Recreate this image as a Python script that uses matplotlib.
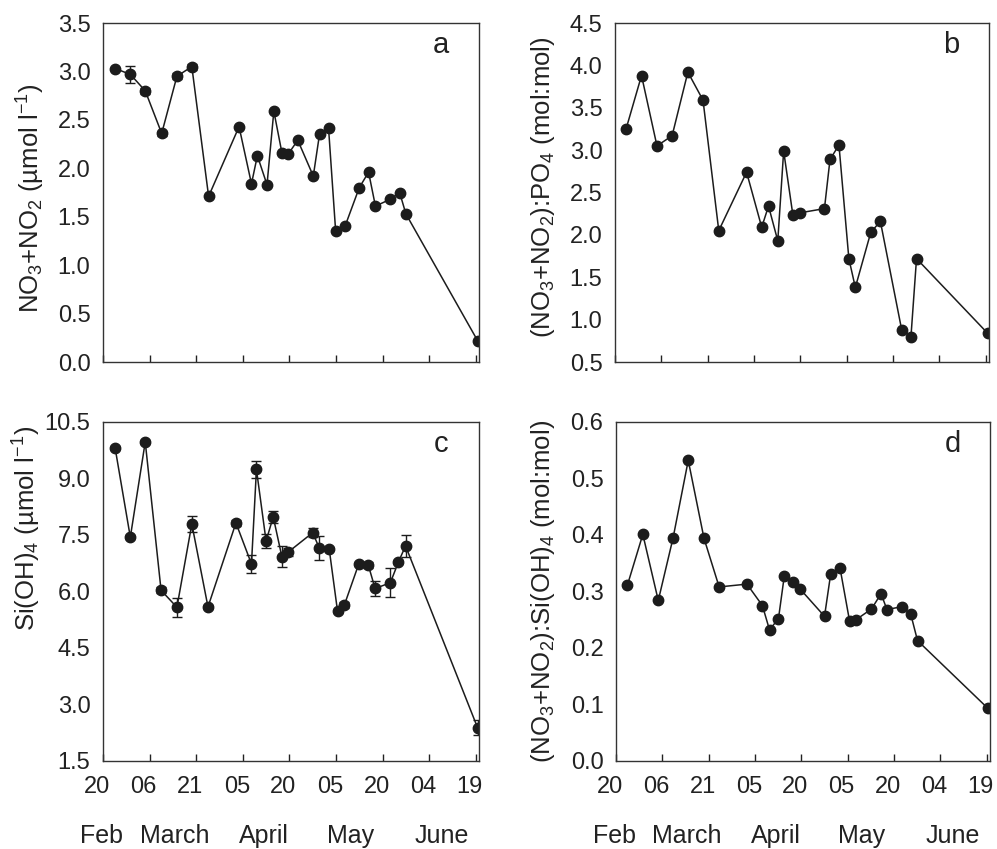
import matplotlib
matplotlib.use('Agg')
import matplotlib.pyplot as plt
import matplotlib.transforms as mtransforms
import numpy as np

plt.rcParams['font.family'] = ['Liberation Sans', 'DejaVu Sans']
plt.rcParams['mathtext.fontset'] = 'custom'
plt.rcParams['mathtext.rm'] = 'Liberation Sans'
plt.rcParams['mathtext.it'] = 'Liberation Sans:italic'
plt.rcParams['mathtext.default'] = 'regular'

# days since 20 Feb
day_a = [3.9, 8.8, 13.6, 18.9, 23.8, 28.6, 34.0, 43.8, 47.8, 49.7, 52.8, 55.0, 57.6, 59.7,
         62.7, 67.7, 69.7, 72.6, 74.9, 77.9, 82.5, 85.5, 87.7, 92.5, 95.5, 97.5, 120.6]
no3_a = [3.03, 2.97, 2.80, 2.36, 2.95, 3.05, 1.71, 2.43, 1.84, 2.13, 1.83, 2.59, 2.16, 2.15,
         2.29, 1.92, 2.35, 2.42, 1.35, 1.40, 1.80, 1.96, 1.61, 1.68, 1.75, 1.53, 0.22]
err_a = [0, 0.085, 0.03, 0.03, 0.03, 0.03, 0, 0, 0, 0, 0, 0, 0, 0,
         0, 0, 0, 0, 0, 0, 0, 0, 0, 0, 0, 0, 0]

day_b = [3.6, 8.6, 13.6, 18.5, 23.6, 28.5, 33.6, 42.6, 47.5, 49.7, 52.7, 54.6, 57.6,
         59.8, 67.8, 69.6, 72.5, 75.7, 77.8, 82.8, 85.9, 92.8, 95.8, 97.6, 120.6]
np_b = [3.25, 3.88, 3.05, 3.17, 3.92, 3.59, 2.05, 2.74, 2.09, 2.34, 1.93, 2.99, 2.23,
        2.26, 2.31, 2.89, 3.06, 1.72, 1.38, 2.03, 2.16, 0.88, 0.80, 1.72, 0.84]

day_c = [3.9, 8.8, 13.6, 18.7, 23.8, 28.6, 33.8, 42.8, 47.8, 49.4, 52.5, 54.8, 57.6,
         59.7, 67.5, 69.6, 72.8, 75.5, 77.7, 82.3, 85.4, 87.6, 92.5, 95.1, 97.4, 120.6]
si_c = [9.81, 7.44, 9.97, 6.03, 5.58, 7.79, 5.59, 7.82, 6.73, 9.24, 7.34, 7.98, 6.92,
        7.05, 7.56, 7.16, 7.14, 5.48, 5.64, 6.72, 6.70, 6.08, 6.23, 6.78, 7.21, 2.38]
err_c = [0.05, 0.05, 0.05, 0.08, 0.25, 0.22, 0.05, 0.08, 0.24, 0.23, 0.19, 0.16, 0.28,
         0.1, 0.12, 0.32, 0.05, 0.05, 0.08, 0.05, 0.08, 0.2, 0.38, 0.05, 0.29, 0.2]

day_d = [3.7, 8.7, 13.7, 18.5, 23.4, 28.5, 33.4, 42.4, 47.4, 49.7, 52.6, 54.5, 57.4,
         59.5, 67.5, 69.5, 72.5, 75.6, 77.7, 82.7, 85.8, 87.7, 92.5, 95.4, 97.6, 120.4]
nsi_d = [0.311, 0.401, 0.284, 0.395, 0.532, 0.394, 0.308, 0.313, 0.275, 0.232, 0.252,
         0.328, 0.316, 0.305, 0.256, 0.331, 0.342, 0.248, 0.250, 0.269, 0.296, 0.268,
         0.273, 0.260, 0.213, 0.093]

tick_days = [0, 15, 30, 45, 60, 75, 90, 105, 120]
tick_labels = ['20', '06', '21', '05', '20', '05', '20', '04', '19']
month_names = ['Feb', 'March', 'April', 'May', 'June']
month_pos = [-0.5, 23, 51.7, 79.6, 109]

ink = '#1c1c1c'

fig = plt.figure(figsize=(9.97, 8.49), dpi=100)
ax_a = fig.add_axes([0.1033, 0.5736, 0.377, 0.3993])
ax_b = fig.add_axes([0.6168, 0.5736, 0.375, 0.3993])
ax_c = fig.add_axes([0.1033, 0.1037, 0.377, 0.3993])
ax_d = fig.add_axes([0.6178, 0.1037, 0.375, 0.3993])

# tick labels sit a little left of their ticks in the original
shift = mtransforms.ScaledTranslation(-0.06, 0, fig.dpi_scale_trans)


def panel(ax, x, y, err, ylim, yticks, fmt, ylabel, lab_xy, letter, bottom):
    if err is not None:
        ax.errorbar(x, y, yerr=err, color=ink, lw=1.1, marker='o', ms=7.5,
                    capsize=3.5, elinewidth=1.0, capthick=1.0)
    else:
        ax.plot(x, y, color=ink, lw=1.1, marker='o', ms=7.5)
    ax.set_xlim(0, 121)
    ax.set_ylim(*ylim)
    ax.set_yticks(yticks)
    ax.set_yticklabels([fmt % v for v in yticks])
    ax.set_xticks(tick_days)
    ax.tick_params(axis='y', length=0, pad=9, labelsize=17, colors='#222222')
    ax.tick_params(axis='x', direction='in', length=5, width=1, pad=11,
                   labelsize=17, colors='#222222')
    if bottom:
        ax.set_xticklabels(tick_labels)
        for lab in ax.get_xticklabels():
            lab.set_transform(lab.get_transform() + shift)
        for m, p in zip(month_names, month_pos):
            ax.text(p, -0.22, m, transform=ax.get_xaxis_transform(),
                    ha='center', va='center', fontsize=18, color='#222222')
    else:
        ax.set_xticklabels([])
    for s in ax.spines.values():
        s.set_color('#333333')
        s.set_linewidth(1.0)
    ax.set_ylabel(ylabel, fontsize=18.5, color='#222222')
    ax.yaxis.set_label_coords(lab_xy[0], lab_xy[1])
    ax.text(0.9, 0.935, letter, transform=ax.transAxes, ha='center', va='center',
            fontsize=21, color='#222222')


panel(ax_a, day_a, no3_a, err_a, (0, 3.5), np.arange(0, 3.51, 0.5), '%.1f',
      'NO$_3$+NO$_2$ (µmol l$^{-1}$)', (-0.15, 0.484), 'a', False)
panel(ax_b, day_b, np_b, None, (0.5, 4.5), np.arange(0.5, 4.51, 0.5), '%.1f',
      '(NO$_3$+NO$_2$):PO$_4$ (mol:mol)', (-0.155, 0.516), 'b', False)
panel(ax_c, day_c, si_c, err_c, (1.5, 10.5), np.arange(1.5, 10.51, 1.5), '%.1f',
      'Si(OH)$_4$ (µmol l$^{-1}$)', (-0.16, 0.687), 'c', True)
panel(ax_d, day_d, nsi_d, None, (0, 0.6), np.arange(0, 0.61, 0.1), '%.1f',
      '(NO$_3$+NO$_2$):Si(OH)$_4$ (mol:mol)', (-0.158, 0.5), 'd', True)

fig.savefig('out.png', dpi=100)
